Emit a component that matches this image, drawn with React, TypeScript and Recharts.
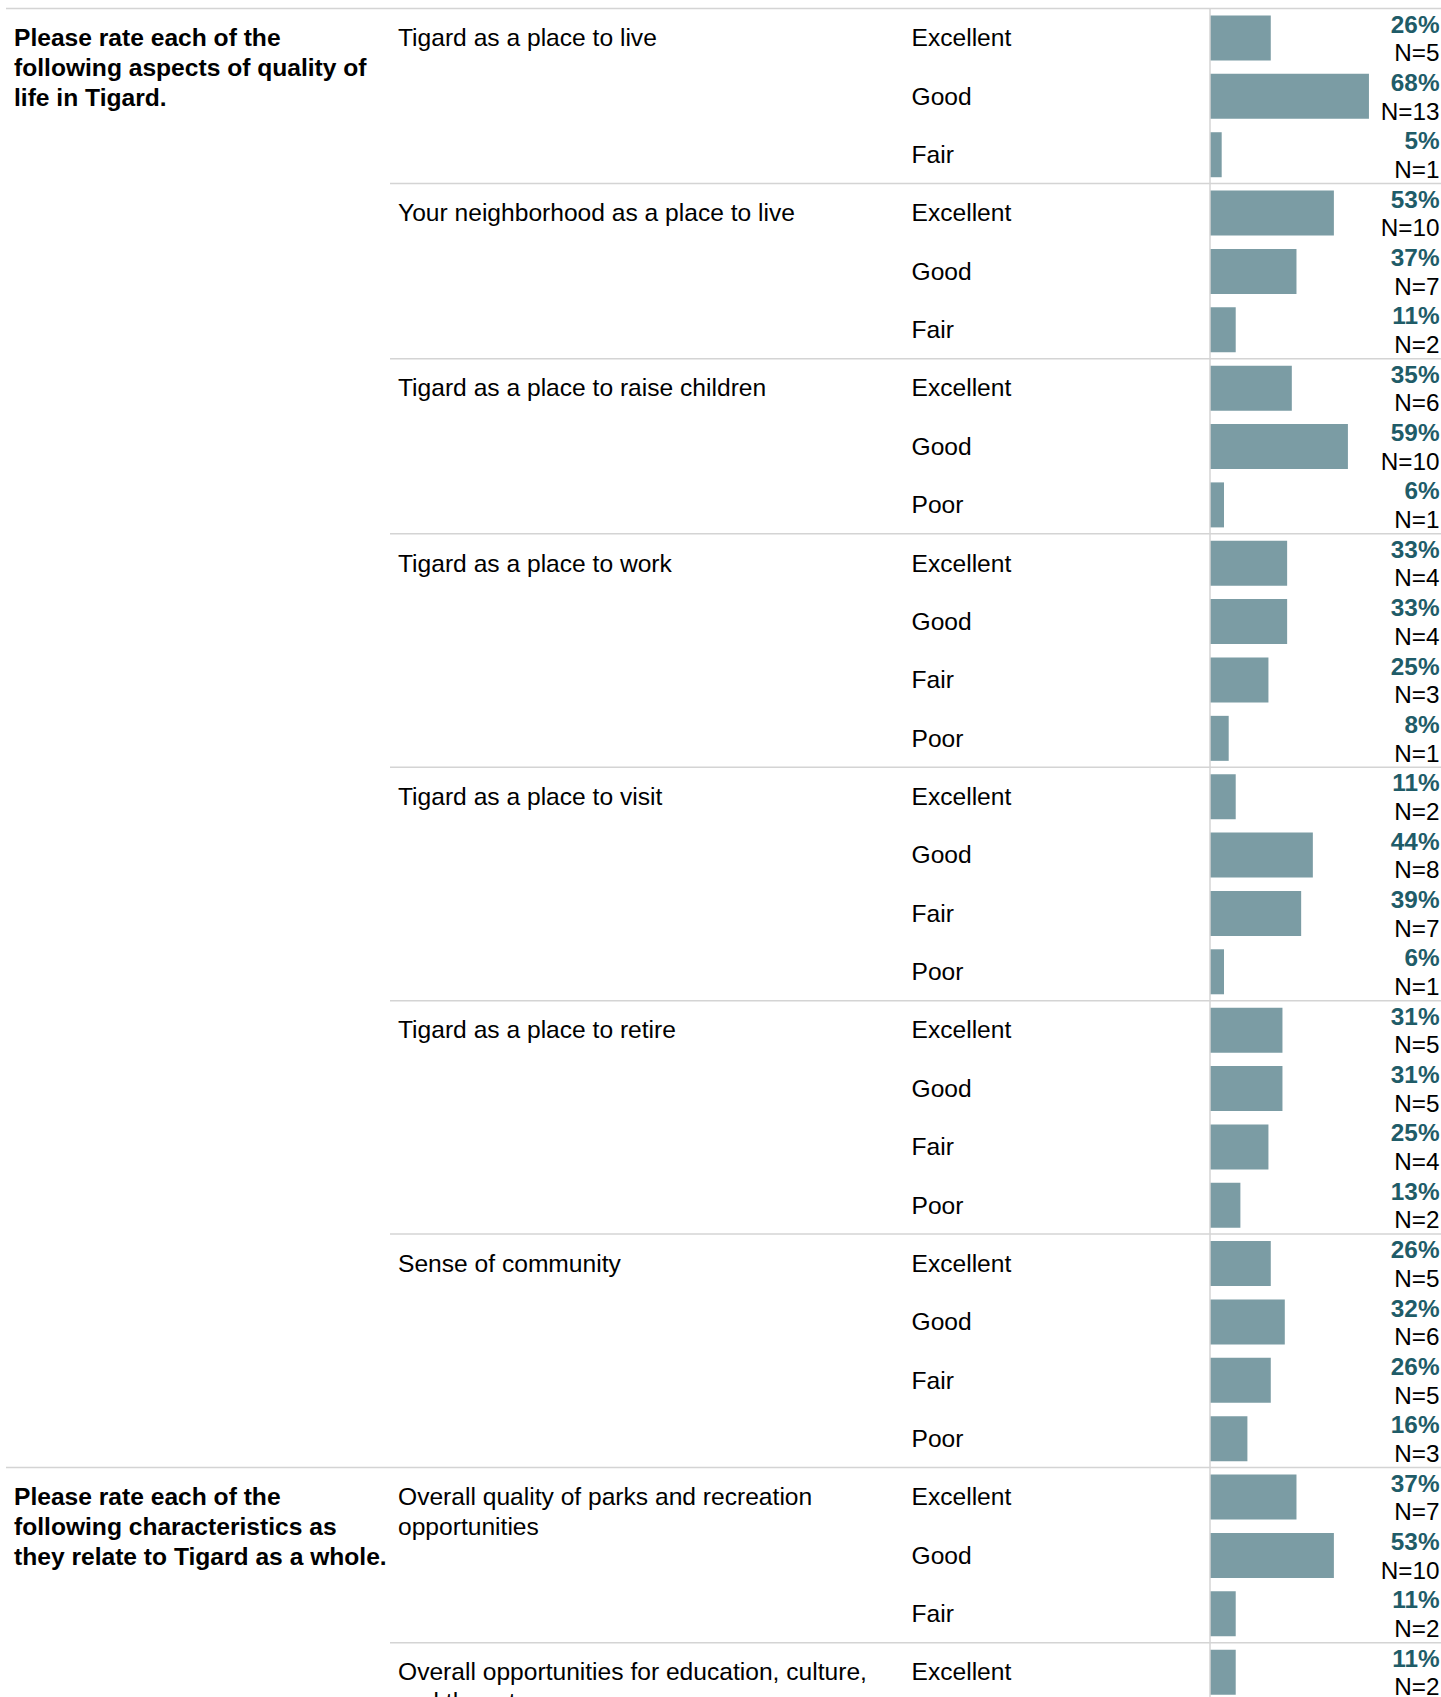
import React from 'react';
import { BarChart, Bar, XAxis, YAxis, LabelList } from 'recharts';

const sectionLines = [
  ['Please rate each of the', 'following aspects of quality of', 'life in Tigard.'],
  ['Please rate each of the', 'following characteristics as', 'they relate to Tigard as a whole.'],
];

const itemLines = [
  ['Tigard as a place to live'],
  ['Your neighborhood as a place to live'],
  ['Tigard as a place to raise children'],
  ['Tigard as a place to work'],
  ['Tigard as a place to visit'],
  ['Tigard as a place to retire'],
  ['Sense of community'],
  ['Overall quality of parks and recreation', 'opportunities'],
  ['Overall opportunities for education, culture,', 'and the arts'],
];

const itemSection = [0, 0, 0, 0, 0, 0, 0, 1, 1];

const ratingLabels = [
  ['Excellent', 'Good', 'Fair'],
  ['Excellent', 'Good', 'Fair'],
  ['Excellent', 'Good', 'Poor'],
  ['Excellent', 'Good', 'Fair', 'Poor'],
  ['Excellent', 'Good', 'Fair', 'Poor'],
  ['Excellent', 'Good', 'Fair', 'Poor'],
  ['Excellent', 'Good', 'Fair', 'Poor'],
  ['Excellent', 'Good', 'Fair'],
  ['Excellent'],
];

const percents = [
  [26, 68, 5],
  [53, 37, 11],
  [35, 59, 6],
  [33, 33, 25, 8],
  [11, 44, 39, 6],
  [31, 31, 25, 13],
  [26, 32, 26, 16],
  [37, 53, 11],
  [11],
];

const counts = [
  [5, 13, 1],
  [10, 7, 2],
  [6, 10, 1],
  [4, 4, 3, 1],
  [2, 8, 7, 1],
  [5, 5, 4, 2],
  [5, 6, 5, 3],
  [7, 10, 2],
  [2],
];

type Row = {
  key: string;
  item: number;
  section: number;
  rating: string;
  pct: number;
  n: number;
  firstInItem: boolean;
  firstInSection: boolean;
};

const rows: Row[] = [];
itemLines.forEach((_, g) => {
  ratingLabels[g].forEach((rating, j) => {
    rows.push({
      key: `${g}-${j}`,
      item: g,
      section: itemSection[g],
      rating,
      pct: percents[g][j],
      n: counts[g][j],
      firstInItem: j === 0,
      firstInSection: j === 0 && (g === 0 || itemSection[g - 1] !== itemSection[g]),
    });
  });
});
const rowByKey: Record<string, Row> = {};
rows.forEach((r) => (rowByKey[r.key] = r));

const FONT = '"Liberation Sans", Arial, Helvetica, sans-serif';
const CHART_W = 1441;
const MARGIN_TOP = 8.5;
const ROW_H = 58.36;
const CHART_H = Math.ceil(MARGIN_TOP + ROW_H * rows.length);
const LINE_COLOR = '#d4d4d4';
const BAR_COLOR = '#7b9ca4';
const PCT_COLOR = '#1f5c68';

// row labels: section question, item, rating + the separator lines
const RowTick = (props: any) => {
  const { y, payload } = props;
  const row = rowByKey[payload.value];
  if (!row) return null;
  const top = y - ROW_H / 2;
  const base = y + 8.6;
  return (
    <g fontFamily={FONT} fontSize={24.6} fill="#000">
      {row.firstInItem && (
        <line
          x1={row.firstInSection ? 6 : 390}
          x2={CHART_W}
          y1={top}
          y2={top}
          stroke={LINE_COLOR}
          strokeWidth={1.5}
        />
      )}
      {row.firstInSection &&
        sectionLines[row.section].map((t, i) => (
          <text key={i} x={14} y={base + i * 30} fontWeight="bold" fill="#000">
            {t}
          </text>
        ))}
      {row.firstInItem &&
        itemLines[row.item].map((t, i) => (
          <text key={i} x={398} y={base + i * 30} fill="#000">
            {t}
          </text>
        ))}
      <text x={911.5} y={base} fill="#000">
        {row.rating}
      </text>
    </g>
  );
};

const ValueLabel = (props: any) => {
  const { y, height, index } = props;
  const row = rows[index];
  if (!row) return null;
  const c = y + height / 2;
  return (
    <g fontFamily={FONT} fontSize={24.3} textAnchor="end">
      <text x={1439.5} y={c - 5.4} fontWeight="bold" fill={PCT_COLOR}>
        {`${row.pct}%`}
      </text>
      <text x={1439.5} y={c + 23.2} fill="#000">
        {`N=${row.n}`}
      </text>
    </g>
  );
};

export default function App() {
  return (
    <div
      style={{
        position: 'absolute',
        left: 0,
        top: 0,
        width: CHART_W,
        height: 1697,
        overflow: 'hidden',
        background: '#fff',
      }}
    >
      <BarChart
        width={CHART_W}
        height={CHART_H}
        data={rows}
        layout="vertical"
        margin={{ top: MARGIN_TOP, right: 44, bottom: 0, left: 0 }}
        barCategoryGap={0}
      >
        <XAxis type="number" domain={[0, 80]} hide />
        <YAxis
          type="category"
          dataKey="key"
          width={1210}
          interval={0}
          tickLine={false}
          axisLine={{ stroke: LINE_COLOR, strokeWidth: 1.5 }}
          tick={<RowTick />}
        />
        <Bar dataKey="pct" fill={BAR_COLOR} barSize={45} isAnimationActive={false}>
          <LabelList dataKey="pct" content={<ValueLabel />} />
        </Bar>
      </BarChart>
    </div>
  );
}
